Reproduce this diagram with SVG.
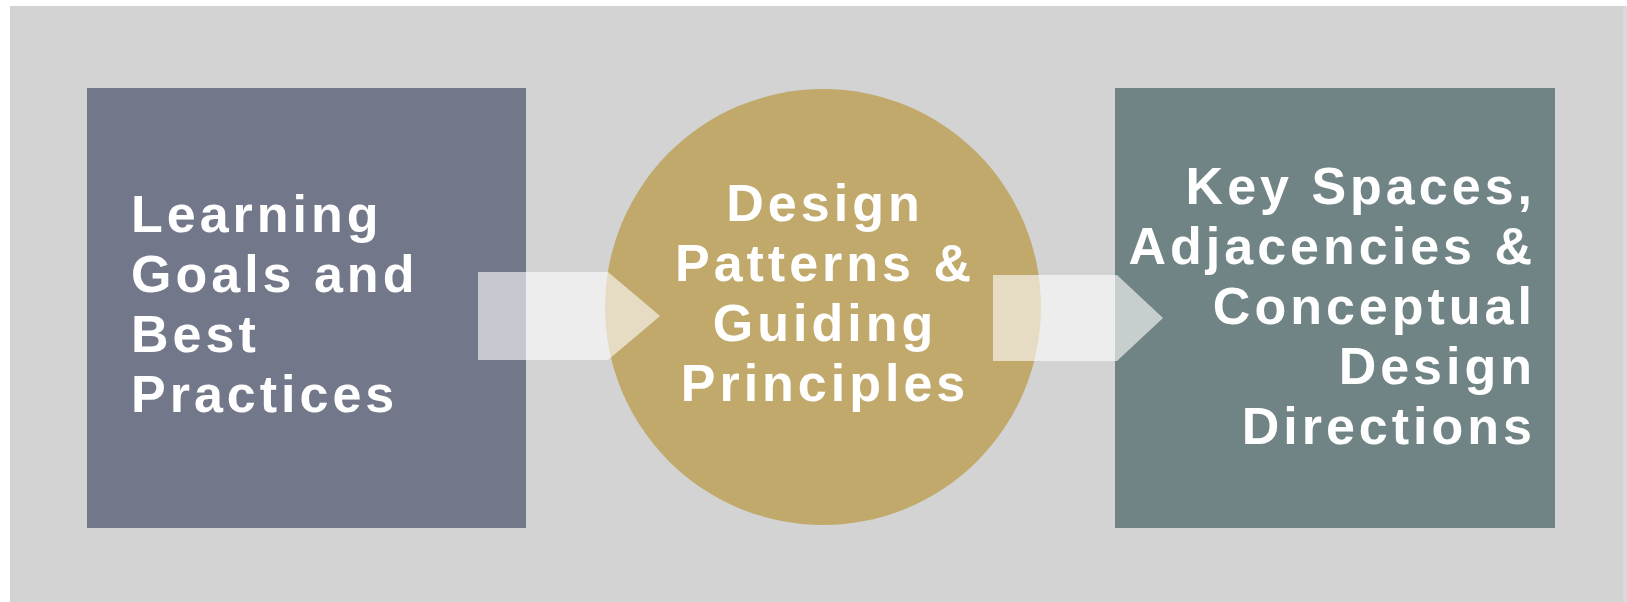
<svg xmlns="http://www.w3.org/2000/svg" width="1627" height="602" viewBox="0 0 1627 602">
  <style>
    .lbl { font-family: "Liberation Sans", Arial, sans-serif; font-weight: bold; font-size: 52px; letter-spacing: 4px; fill: #ffffff; }
    .arrow { fill: #ffffff; fill-opacity: 0.6; }
  </style>
  <rect x="0" y="0" width="1627" height="602" fill="#ffffff"/>
  <rect x="10" y="6" width="1617" height="596" fill="#d3d3d3"/>
  <rect x="1623" y="6" width="4" height="596" fill="#dadada"/>
  <g id="node-learning">
    <rect x="87" y="88" width="439" height="440" fill="#727789"/>
    <text class="lbl" x="131" y="232">Learning</text>
    <text class="lbl" x="131" y="292">Goals and</text>
    <text class="lbl" x="131" y="352">Best</text>
    <text class="lbl" x="131" y="412">Practices</text>
  </g>
  <g id="node-design">
    <circle cx="823" cy="307" r="218" fill="#c0a96b"/>
    <text class="lbl" x="825" y="221" text-anchor="middle">Design</text>
    <text class="lbl" x="825" y="281" text-anchor="middle">Patterns &amp;</text>
    <text class="lbl" x="825" y="341" text-anchor="middle">Guiding</text>
    <text class="lbl" x="825" y="401" text-anchor="middle">Principles</text>
  </g>
  <g id="node-key">
    <rect x="1115" y="88" width="440" height="440" fill="#718485"/>
    <text class="lbl" x="1536" y="204" text-anchor="end">Key Spaces,</text>
    <text class="lbl" x="1536" y="264" text-anchor="end">Adjacencies &amp;</text>
    <text class="lbl" x="1536" y="324" text-anchor="end">Conceptual</text>
    <text class="lbl" x="1536" y="384" text-anchor="end">Design</text>
    <text class="lbl" x="1536" y="444" text-anchor="end">Directions</text>
  </g>
  <g id="connectors">
    <polygon class="arrow" points="478,272 608,272 660,316 608,360 478,360"/>
    <polygon class="arrow" points="993,275 1117,275 1163,318 1117,361 993,361"/>
  </g>
</svg>
